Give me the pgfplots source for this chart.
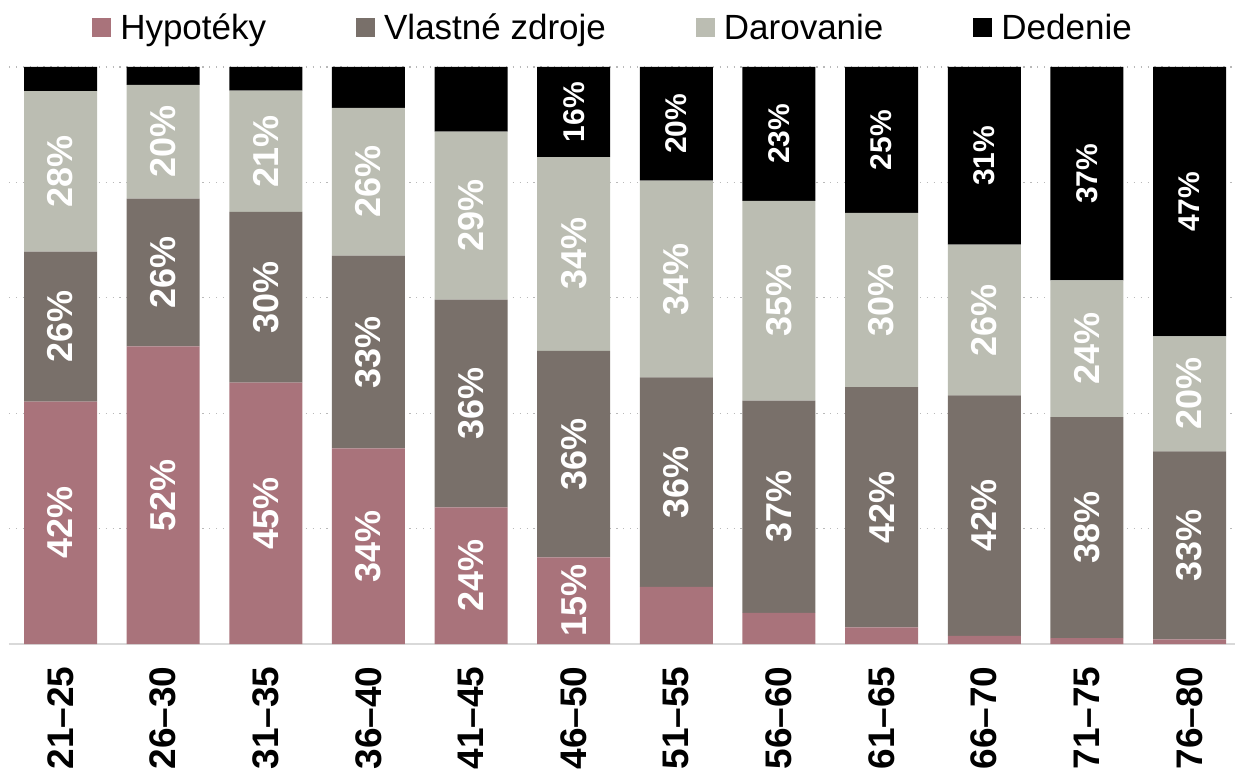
\documentclass[border=0pt]{standalone}
\usepackage{pgfplots}
\pgfplotsset{compat=1.18}
\usepackage{pgfplotstable}
\usepackage{fontspec}
\setmainfont{Liberation Sans}
\definecolor{hyp}{HTML}{A9737B}
\definecolor{vz}{HTML}{79706A}
\definecolor{dar}{HTML}{BBBDB2}
\definecolor{ded}{HTML}{000000}

\pgfplotstableread{
x H V D E
0 42.0 26.0 27.8 4.2
1 51.6 25.6 19.7 3.1
2 45.3 29.6 21.0 4.1
3 33.9 33.4 25.6 7.1
4 23.7 36.0 29.1 11.2
5 15.0 35.8 33.6 15.6
6 9.9 36.3 34.1 19.7
7 5.4 36.8 34.6 23.2
8 2.9 41.6 30.2 25.3
9 1.4 41.7 26.1 30.8
10 1.0 38.3 23.7 37.0
11 0.8 32.6 19.9 46.7
}\data

\pgfplotstableread{
x y lab
0 21.0 42
0 55.0 26
0 81.9 28
1 25.8 52
1 64.4 26
1 87.05 20
2 22.65 45
2 60.1 30
2 85.4 21
3 16.95 34
3 50.6 33
3 80.1 26
4 11.85 24
4 41.7 36
4 74.25 29
5 7.5 15
5 32.9 36
5 67.6 34
6 28.05 36
6 63.25 34
7 23.8 37
7 59.5 35
8 23.7 42
8 59.6 30
9 22.25 42
9 56.15 26
10 20.15 38
10 51.15 24
11 17.1 33
11 43.35 20
}\labsmain

\pgfplotstableread{
x y lab
5 92.2 16
6 90.15 20
7 88.4 23
8 87.35 25
9 84.6 31
10 81.5 37
11 76.65 47
}\labsded

\pgfplotsset{
  geom/.style={at={(9pt,128pt)}, anchor=south west, width=1226pt, height=577pt,
    scale only axis, xmin=-0.5018, xmax=11.443, ymin=0, ymax=100},
  sqlegend/.style={legend image code/.code={\fill[##1] (0pt,-9.5pt) rectangle (19pt,9.5pt);}},
}

\begin{document}
\begin{tikzpicture}
\useasboundingbox (0,0) rectangle (1235pt,772pt);
\begin{axis}[geom,
  ybar stacked, bar width=73pt,
  axis x line*=bottom, axis y line*=left,
  y axis line style={draw=none},
  x axis line style={draw=gray!30, line width=1.5pt},
  tick style={draw=none}, major tick length=0pt,
  ytick={20,40,60,80,100}, yticklabels={},
  ymajorgrids, y grid style={draw=gray!55, line width=1.3pt, dash pattern=on 1.3pt off 5.6pt},
  xtick={0,...,11},
  xticklabels={21--25,26--30,31--35,36--40,41--45,46--50,51--55,56--60,61--65,66--70,71--75,76--80},
  xticklabel style={yshift=-19pt, rotate=90, anchor=east, font=\bfseries\fontsize{37}{37}\selectfont},
  legend style={at={(0.4927,1.068)}, anchor=center, draw=none, fill=none,
    font=\fontsize{35}{42}\selectfont, legend columns=4,
    /tikz/every odd column/.append style={column sep=7pt},
    /tikz/every even column/.append style={column sep=88pt}},
]
\addplot[fill=hyp, draw=none, sqlegend] table[x=x, y=H] \data;
\addplot[fill=vz, draw=none, sqlegend] table[x=x, y=V] \data;
\addplot[fill=dar, draw=none, sqlegend] table[x=x, y=D] \data;
\addplot[fill=ded, draw=none, sqlegend] table[x=x, y=E] \data;
\legend{Hypotéky, Vlastné zdroje, Darovanie, Dedenie}
\end{axis}
\begin{axis}[geom, axis lines=none, ticks=none]
\addplot[only marks, mark=none, point meta=explicit symbolic,
  nodes near coords={\pgfplotspointmeta\%},
  every node near coord/.style={rotate=90, anchor=center, text=white, inner sep=0pt,
    font=\bfseries\fontsize{36}{36}\selectfont}]
  table[x=x, y=y, meta=lab] \labsmain;
\addplot[only marks, mark=none, point meta=explicit symbolic,
  nodes near coords={\pgfplotspointmeta\%},
  every node near coord/.style={rotate=90, anchor=center, text=white, inner sep=0pt,
    font=\bfseries\fontsize{30}{30}\selectfont}]
  table[x=x, y=y, meta=lab] \labsded;
\end{axis}
\end{tikzpicture}
\end{document}
